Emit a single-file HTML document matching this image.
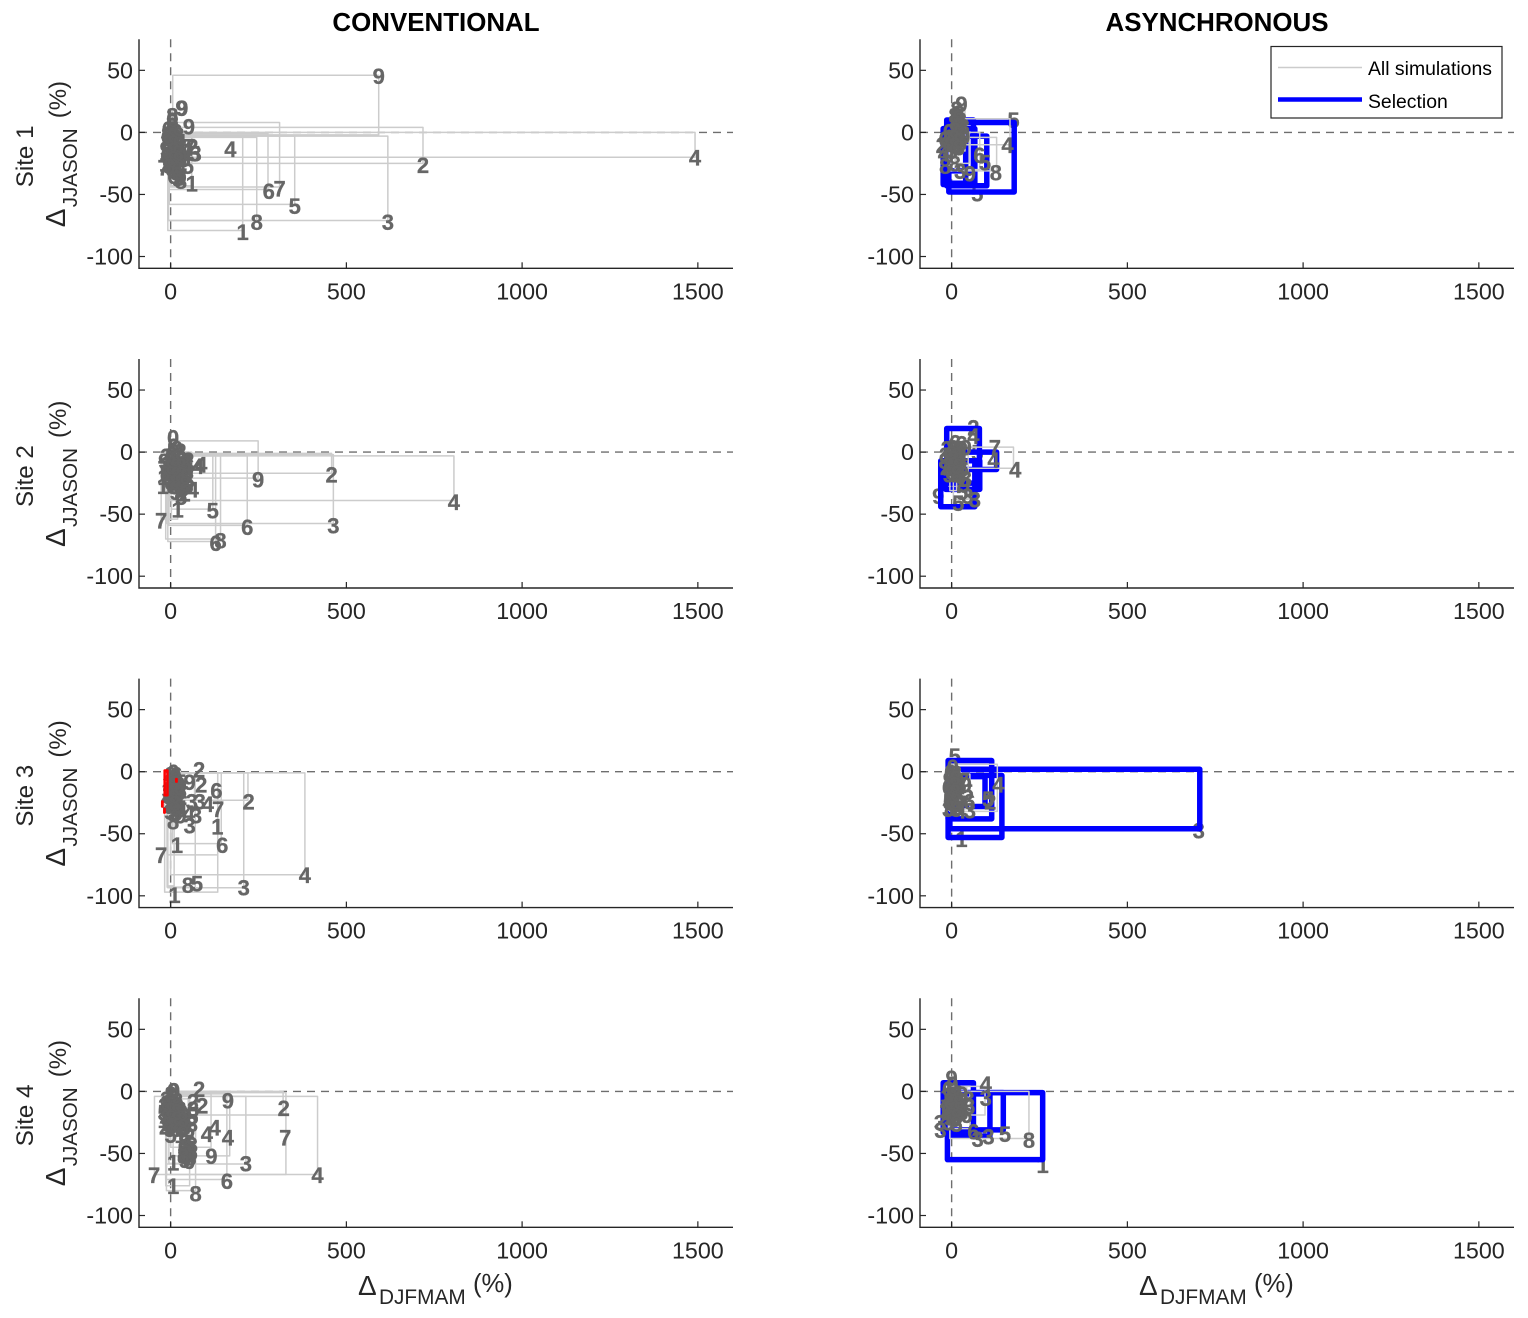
<!DOCTYPE html>
<html lang="en">
<head>
<meta charset="utf-8">
<title>Conventional vs asynchronous simulations</title>
<style>
html,body{margin:0;padding:0;background:#fff;}
svg{display:block;font-family:"Liberation Sans",sans-serif;}
</style>
</head>
<body>
<svg id="figure" width="1528" height="1318" viewBox="0 0 1528 1318" xmlns="http://www.w3.org/2000/svg"></svg>
<script>
// Axis limits and ticks
const xLimits = [-90, 1600];
const yLimits = [-109.5, 75];
const xTicks = [0, 500, 1000, 1500];
const yTicks = [50, 0, -50, -100];
const siteNames = ["Site 1", "Site 2", "Site 3", "Site 4"];
const columnTitles = ["CONVENTIONAL", "ASYNCHRONOUS"];

// Rectangles: [xLow, xHigh, yLow, yHigh]; labels: [digit, x, y]
const conv1Rects = [[6,592,-2,46],[5,718,-25,4],[3,1492,-20,0],[-8,618,-71,-3],[-6,245,-71,-4],[-8,205,-79,-3],[-4,353,-58,-3],[-4,277,-46,-1],[-1,310,-44,8],[-6,28,-30,5],[-5,60,-43,-2]];
const conv1Labels = [["9",592,44.5],["2",718,-27],["4",1492,-21],["3",618,-73],["8",245,-73],["1",205,-81],["5",353,-60],["6",279,-48],["7",310,-46],["4",170,-14],["9",31,19],["9",33,19],["9",52,4],["1",60,-42],["8",29,-40],["9",28,-37],["5",49,-28],["3",71,-18],["5",68,-18],["7",53,-12],["2",62,-12],["3",40,-22],
["8",5,13],["8",5,9],["8",5,5],["6",-8,2],["6",-10,-4],["8",2,0],["6",16,0],["3",-12,-8],["5",0,-6],["2",14,-6],["4",28,-8],["9",-14,-14],["3",0,-12],["8",14,-13],["5",30,-14],["4",44,-16],["6",-12,-20],["2",2,-18],["3",16,-20],["9",30,-20],["1",-16,-26],["6",0,-24],["8",14,-26],["4",28,-28],["7",-20,-29],["5",3,-30],["3",16,-33],["6",8,-36],["9",20,-38],
["8",-10,-2],["8",6,-3],["8",22,-3],["8",-6,-9],["8",8,-9],["8",22,-10],["8",-8,-16],["8",8,-15],["8",22,-17],["8",-6,-23],["8",8,-22],["8",22,-23],["8",6,-28],["8",18,-30],["8",-4,-28]];

const conv2Rects = [[7,249,-21,9],[5,458,-17,-1],[-12,463,-57.5,-2],[-3,806,-39,-3],[-5,218,-59,-3],[-14,142,-70,-3],[-8,128,-72,-2],[2,120,-46,-1],[-27,2,-54,0],[-5,20,-54,-2],[3,60,-30,0]];
const conv2Labels = [["9",249,-23],["2",458,-19],["3",463,-60],["4",806,-41],["6",218,-61],["8",142,-72],["6",128,-74],["5",120,-48],["7",-27,-56],["1",20,-47],["4",87,-11],["4",63,-31],["4",78,-12],["2",50,-7],
["0",7,11],["6",8,4],["9",18,2],["2",28,0],["3",-12,-4],["8",2,-3],["5",16,-5],["6",30,-6],["4",44,-7],["9",-18,-8],["3",-6,-10],["8",8,-10],["2",22,-11],["5",36,-11],["6",50,-12],["7",-20,-14],["4",-8,-15],["6",6,-16],["3",20,-16],["8",34,-17],["9",48,-16],["1",-20,-21],["5",-6,-21],["2",8,-22],["9",22,-22],["6",36,-22],["3",50,-23],["8",6,-28],["4",20,-28],["5",34,-29],["6",48,-28],["1",-22,-28],["9",14,-33],["8",28,-34],["2",40,-34],["5",30,-37],
["8",0,-6],["8",14,-6],["8",28,-7],["8",42,-9],["8",-12,-11],["8",2,-13],["8",16,-12],["8",30,-12],["8",-12,-18],["8",2,-18],["8",16,-19],["8",30,-19],["8",44,-20],["8",0,-25],["8",14,-25],["8",28,-25],["8",42,-26]];

const conv3Rects = [[0,382,-83,-1],[-8,208,-93.5,-1],[7,220,-23,-1],[5,144,-58,-1],[-17,134,-97,-1],[-10,70,-93,-1],[-10,134,-67,-1],[0,68,-23,-1],[-8,10,-92,-1]];
const conv3Labels = [["2",81,1],["9",54,-9],["2",87,-11],["6",130,-16],["2",30,-16],["2",222,-25],["7",135,-31],["1",133,-45],["4",106,-27],["3",83,-25],["3",60,-25],["8",7,-41],["9",28,-36],["4",52,-34],["3",72,-36],["3",54,-44],["6",147,-60],["1",18,-60],["7",-27,-68],["4",382,-84],["3",208,-94],["8",49,-92],["5",75,-91],["1",11,-100],
["0",8,-1],["6",16,-3],["8",4,-6],["3",18,-8],["5",28,-9],["2",-6,-10],["6",8,-12],["9",20,-14],["3",-8,-16],["8",6,-18],["5",18,-20],["4",-10,-22],["6",4,-23],["9",16,-25],["2",30,-21],["3",-6,-27],["8",8,-28],["6",20,-30],["4",30,-30],["5",16,-34],["9",-2,-33],
["8",0,-3],["8",14,-5],["8",-2,-9],["8",12,-10],["8",24,-11],["8",-2,-15],["8",12,-16],["8",24,-17],["8",-2,-21],["8",10,-21],["8",24,-24],["8",0,-28],["8",12,-26]];
const conv3Red = [[-17,-9,-19,1],[-24,-23,-28,-24],[-18,-17,-33,-30],[16,17,-8,-6]];

const conv4Rects = [[-46,418,-67,-4],[-12,328,-67,-1],[-3,320,-19,0],[-12,214,-58.5,-4],[-14,160,-71,-2],[7,168,-52,0],[-12,71,-80,0],[-14,54,-76,-3],[0,115,-45,-2],[-5,50,-58,-6]];
const conv4Labels = [["4",418,-68],["7",326,-38],["7",-47,-68],["2",322,-14],["3",214,-59],["6",160,-73],["4",163,-38],["9",163,-8],["9",116,-53],["8",71,-83],["1",7,-77],["1",7,-58],["4",103,-35],["4",125,-30],["2",81,1],["2",90,-12],["2",64,-9],
["0",7,0],["0",10,0],["6",6,-5],["3",-12,-7],["5",2,-9],["8",18,-8],["2",-18,-12],["9",-4,-13],["6",12,-14],["3",28,-15],["5",-20,-18],["8",-6,-19],["4",8,-19],["6",24,-20],["9",38,-20],["1",-20,-24],["3",-6,-25],["5",10,-25],["8",26,-25],["6",44,-26],["2",-16,-29],["9",-2,-31],["6",14,-31],["3",30,-31],["5",0,-36],["8",40,-36],["6",52,-32],["8",60,-27],["5",62,-21],["3",64,-15],
["8",40,-42],["6",54,-42],["9",38,-47],["5",52,-47],["8",36,-51],["3",50,-52],["6",60,-50],["6",52,-57],["9",40,-56],["1",28,-36],
["8",0,-3],["8",10,-5],["8",-12,-10],["8",4,-11],["8",20,-12],["8",-12,-16],["8",2,-16],["8",18,-17],["8",32,-18],["8",-12,-22],["8",2,-22],["8",18,-23],["8",34,-24],["8",-8,-27],["8",6,-28],["8",22,-28],["8",36,-29],["8",44,-45],["8",60,-44],["8",44,-50],["8",56,-54],["8",36,-53]];

const async1Rects = [[5,38,-15,23],[-7,128,-31,-4],[5,166,-10,11],[10,80,-30,0],[-5,50,-25,0]];
const async1Labels = [["9",28,22],["4",159,-11],["8",126,-33],["5",95,-25],["6",79,-19],["9",52,-34],["8",9,-26],["3",24,-32],["2",-28,-11],["6",-20,-6],["4",-22,-18],["8",-18,-28],
["8",14,18],["8",20,15],["6",14,12],["8",26,9],["6",14,6],["8",26,3],["6",14,0],["8",26,-3],["6",14,-6],["8",26,-9],["6",14,-12],["6",-8,0],["4",-14,-6],["9",-4,-10],["3",-10,-15],["5",0,-16],["8",34,4],["9",36,-4],
["8",8,13],["8",20,11],["8",10,7],["8",22,5],["8",10,1],["8",22,-1],["8",8,-5],["8",22,-7],["8",8,-11],["8",20,-13]];
const async1SelRects = [[-8,178,-48,8],[-14,100,-43,-3],[-24,66,-41,3],[-14,62,-31,10],[-24,40,-42,3]];
const async1SelLabels = [["5",176,9],["5",73,-50]];

const async2Rects = [[5,47,-38,5],[-5,14,-31,5],[5,176,-13,4],[-12,30,-20,3]];
const async2Labels = [["7",123,3],["4",181,-15],["4",119,-7],["3",66,-39],["5",19,-42],["4",62,12],["3",45,-36],
["6",10,7],["6",28,6],["9",40,3],["2",-14,2],["8",2,3],["5",18,2],["3",-18,-3],["6",-4,-3],["9",12,-3],["4",28,-4],["8",-20,-8],["3",-6,-8],["6",10,-9],["5",26,-9],["2",-16,-13],["9",0,-14],["8",16,-14],["6",32,-14],["5",-8,-19],["3",8,-19],["6",24,-20],["8",40,-22],["9",36,-27],["5",30,-33],
["8",0,-2],["8",14,-3],["8",-8,-5],["8",6,-6],["8",18,-7],["8",-8,-11],["8",6,-11],["8",20,-12],["8",0,-17],["8",14,-18]];
const async2SelRects = [[-14,79,-25,19],[30,128,-14,0],[-31,66,-44,-7],[-17,80,-30,-7]];
const async2SelLabels = [["2",62,19],["5",73,-1],["9",-38,-36]];

const async3Rects = [[-10,24,-31,2.5],[-5,130,-32,6],[20,52,-30,-2]];
const async3Labels = [["4",133,-11],["5",104,-23],["2",110,-25],["3",52,-32],["3",-10,-31],["4",24,-32],["6",4,-10],["9",40,-11],["5",45,-17],["6",50,-25],
["0",3,3],["6",-4,-1],["8",12,-2],["9",-8,-7],["5",6,-8],["3",20,-9],["6",-10,-13],["8",4,-14],["4",18,-15],["2",-6,-19],["9",8,-20],["6",24,-21],["5",-8,-25],["8",6,-26],["3",20,-27],["7",34,-8],["8",-4,-30],["9",14,-31],
["8",0,-4],["8",12,-6],["8",-4,-10],["8",10,-11],["8",-4,-17],["8",10,-17],["8",0,-23],["8",12,-24]];
const async3SelRects = [[-5,706,-46,2],[-10,143,-53,-3],[-10,114,-38,9],[-10,95,-28,-4]];
const async3SelLabels = [["3",703,-48],["1",28,-55],["5",9,12]];

const async4Rects = [[-5,220,-38,0],[5,43,-19,4],[0,95,-19,4],[-9,52,-30,0]];
const async4Labels = [["8",220,-40],["4",97,5],["3",97,-6],["6",62,-33],["3",74,-39],["3",105,-37],["5",152,-35],["9",0,10],["3",-33,-26],["3",-32,-32],["8",48,-7],["6",50,-13],["8",-14,-18],["6",42,-20],
["0",2,5],["6",-10,1],["8",4,0],["6",18,-2],["9",30,-3],["3",-14,-5],["5",0,-6],["8",14,-7],["6",28,-8],["4",-16,-10],["9",-2,-11],["5",12,-12],["3",26,-13],["6",-12,-16],["8",2,-17],["2",16,-18],["5",30,-18],["9",-6,-22],["6",8,-23],["3",-10,-26],["5",14,-27],
["8",0,-3],["8",12,-3],["8",-6,-8],["8",6,-9],["8",20,-10],["8",-6,-14],["8",8,-15],["8",22,-15],["8",0,-20],["8",14,-21]];
const async4SelRects = [[-12,259,-55,-1],[-20,147,-31,-1],[-24,62,-33,7],[-5,109,-36,-2]];
const async4SelLabels = [["1",259,-60]];

// Panel table
const panels = [
  {col:0,row:0,key:"conventional-site-1",rects:conv1Rects,labels:conv1Labels},
  {col:0,row:1,key:"conventional-site-2",rects:conv2Rects,labels:conv2Labels},
  {col:0,row:2,key:"conventional-site-3",rects:conv3Rects,labels:conv3Labels,red:conv3Red},
  {col:0,row:3,key:"conventional-site-4",rects:conv4Rects,labels:conv4Labels},
  {col:1,row:0,key:"asynchronous-site-1",rects:async1Rects,labels:async1Labels,sel:async1SelRects,selLabels:async1SelLabels},
  {col:1,row:1,key:"asynchronous-site-2",rects:async2Rects,labels:async2Labels,sel:async2SelRects,selLabels:async2SelLabels},
  {col:1,row:2,key:"asynchronous-site-3",rects:async3Rects,labels:async3Labels,sel:async3SelRects,selLabels:async3SelLabels},
  {col:1,row:3,key:"asynchronous-site-4",rects:async4Rects,labels:async4Labels,sel:async4SelRects,selLabels:async4SelLabels}
];

const NS = "http://www.w3.org/2000/svg";
const svg = document.getElementById("figure");
const colLeft = [139, 920];
const axisWidth = 594;
const rowBottom = [268.3, 588, 907.6, 1227.3];
const axisHeight = 229;
const AXIS_COLOR = "#262626";

function xScale(col, v){ return colLeft[col] + (v - xLimits[0]) / (xLimits[1] - xLimits[0]) * axisWidth; }
function yScale(row, v){ return rowBottom[row] - (v - yLimits[0]) / (yLimits[1] - yLimits[0]) * axisHeight; }

function make(tag, attrs, parent){
  const el = document.createElementNS(NS, tag);
  for (const k in attrs) el.setAttribute(k, attrs[k]);
  (parent || svg).appendChild(el);
  return el;
}
function rectPath(col, row, r){
  const x0 = xScale(col, r[0]), x1 = xScale(col, r[1]);
  const y0 = yScale(row, r[2]), y1 = yScale(row, r[3]);
  return "M" + x0 + " " + y0 + "L" + x1 + " " + y0 + "L" + x1 + " " + y1 + "L" + x0 + " " + y1 + "Z";
}
function drawRects(group, col, row, rows, stroke, width, name){
  rows.forEach(function(r){
    const el = make("path", {d: rectPath(col, row, r), fill: "none", stroke: stroke, "stroke-width": width, "stroke-linejoin": "round"}, group);
    
    
  });
}
function drawLabels(group, col, row, rows){
  rows.forEach(function(r){
    const el = make("text", {x: xScale(col, r[1]), y: yScale(row, r[2]) + 7, "text-anchor": "middle", "font-size": "22", "font-weight": "bold", fill: "#666666", stroke: "#666666", "stroke-width": 0.3}, group);
    el.textContent = r[0];
    
    
  });
}

function drawPanel(p){
  const col = p.col, row = p.row;
  const g = make("g", {});
  
  

  const bottom = rowBottom[row], top = bottom - axisHeight, left = colLeft[col], right = left + axisWidth;

  // zero reference lines
  const hz = make("line", {x1: left, x2: right, y1: yScale(row, 0), y2: yScale(row, 0), stroke: "#6e6e6e", "stroke-width": 1.4, "stroke-dasharray": "8 6"}, g);
  
  
  const vz = make("line", {x1: xScale(col, 0), x2: xScale(col, 0), y1: top, y2: bottom, stroke: "#6e6e6e", "stroke-width": 1.4, "stroke-dasharray": "8 6"}, g);
  
  

  // marks
  if (p.selLabels) drawLabels(g, col, row, p.selLabels);
  if (p.sel) drawRects(g, col, row, p.sel, "#0000ff", 5.5, "selection-rectangle");
  drawRects(g, col, row, p.rects, "#cccccc", 1.5, "simulation-rectangle");
  drawLabels(g, col, row, p.labels);
  if (p.red) drawRects(g, col, row, p.red, "#ff0000", 2.5, "highlight-rectangle");

  // axes
  const ax = make("path", {d: "M" + left + " " + top + "L" + left + " " + bottom + "L" + right + " " + bottom, fill: "none", stroke: AXIS_COLOR, "stroke-width": 1.4}, g);
  
  

  xTicks.forEach(function(t){
    const x = xScale(col, t);
    const tick = make("line", {x1: x, x2: x, y1: bottom, y2: bottom - 6, stroke: AXIS_COLOR, "stroke-width": 1.2}, g);
    
    
    const lab = make("text", {x: x, y: bottom + 31, "text-anchor": "middle", "font-size": "23.3", fill: AXIS_COLOR}, g);
    lab.textContent = t;
    
    
  });
  yTicks.forEach(function(t){
    const y = yScale(row, t);
    const tick = make("line", {x1: left, x2: left + 6, y1: y, y2: y, stroke: AXIS_COLOR, "stroke-width": 1.2}, g);
    
    
    const lab = make("text", {x: left - 6, y: y + 8, "text-anchor": "end", "font-size": "23.3", fill: AXIS_COLOR}, g);
    lab.textContent = t;
    
    
  });

  // left-column row titles and y-axis label
  if (col === 0) {
    const ly = make("g", {transform: "translate(" + (left - 74) + " " + (bottom - 41) + ") rotate(-90)"}, g);
    
    
    const site = make("text", {x: 40, y: -32, "font-size": "24.2", fill: AXIS_COLOR}, ly);
    site.textContent = siteNames[row];
    
    
    const delta = make("text", {x: 0, y: 0, "font-size": "28", fill: AXIS_COLOR}, ly);
    delta.textContent = "\u0394";
    
    
    const sub = make("text", {x: 20, y: 12, "font-size": "20.6", fill: AXIS_COLOR}, ly);
    sub.textContent = "JJASON";
    
    
    const pct = make("text", {x: 109, y: 1, "font-size": "24", fill: AXIS_COLOR}, ly);
    pct.textContent = "(%)";
    
    
  }
}
panels.forEach(drawPanel);

// Column titles
[436, 1217].forEach(function(cx, i){
  const t = make("text", {x: cx, y: 31, "text-anchor": "middle", "font-size": "25.9", "font-weight": "bold", fill: "#000"});
  t.textContent = columnTitles[i];
  
  
});

// X axis titles on the bottom row
colLeft.forEach(function(left){
  const g = make("g", {transform: "translate(" + (left + 219) + " 1295)"});
  
  
  const d = make("text", {x: 0, y: 0, "font-size": "28", fill: AXIS_COLOR}, g);
  d.textContent = "\u0394";
  
  
  const s = make("text", {x: 21, y: 9, "font-size": "20.8", fill: AXIS_COLOR}, g);
  s.textContent = "DJFMAM";
  
  
  const u = make("text", {x: 115, y: -3, "font-size": "25.6", fill: AXIS_COLOR}, g);
  u.textContent = "(%)";
  
  
});

// Legend
const legend = make("g", {});


const legendBox = make("rect", {x: 1271, y: 46.5, width: 231, height: 71.5, fill: "#fff", stroke: AXIS_COLOR, "stroke-width": 1.2}, legend);


const legendGray = make("line", {x1: 1278, x2: 1362, y1: 67.5, y2: 67.5, stroke: "#cccccc", "stroke-width": 1.5}, legend);


const legendBlue = make("line", {x1: 1278, x2: 1362, y1: 99.5, y2: 99.5, stroke: "#0000ff", "stroke-width": 4.5}, legend);


const legendAll = make("text", {x: 1368, y: 75, "font-size": "19.4", fill: "#000"}, legend);
legendAll.textContent = "All simulations";


const legendSel = make("text", {x: 1368, y: 108, "font-size": "19.4", fill: "#000"}, legend);
legendSel.textContent = "Selection";


</script>
</body>
</html>
